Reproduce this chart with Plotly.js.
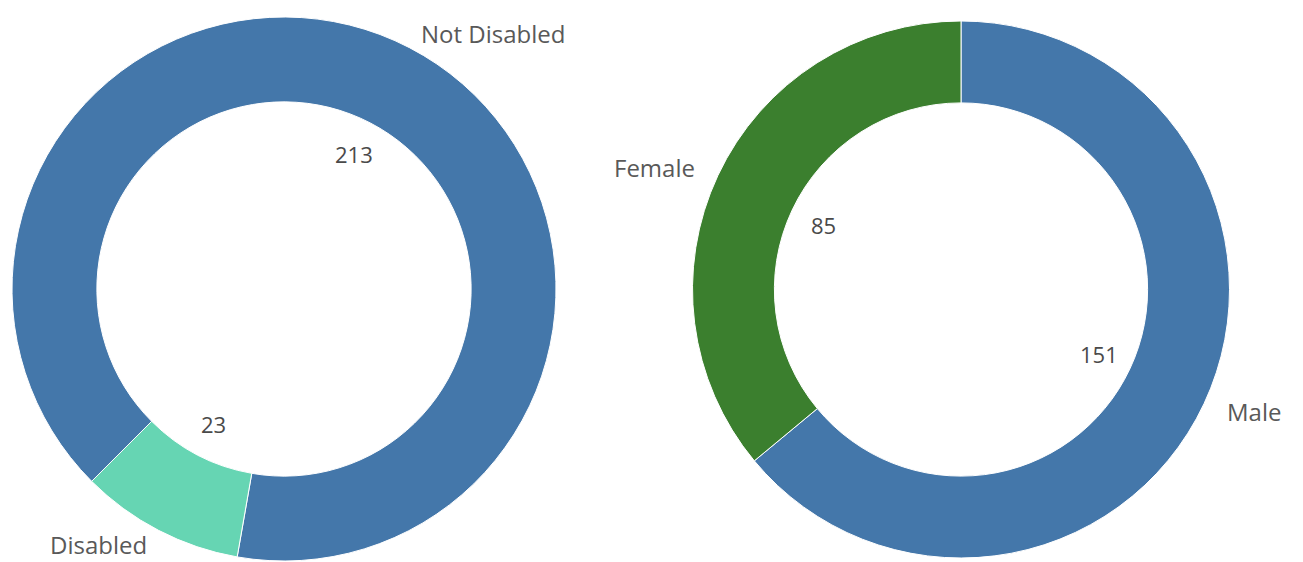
<!DOCTYPE html>
<html>
<head>
<meta charset="utf-8">
<script src="https://cdn.plot.ly/plotly-3.0.1.min.js"></script>
<style>html,body{margin:0;padding:0;background:#fff;}#chart{width:1303px;height:562px;}</style>
</head>
<body>
<div id="chart"></div>
<script>
// Data
const disabilityLabels = ["Not Disabled", "Disabled"];
const disabilityValues = [213, 23];
const genderLabels = ["Male", "Female"];
const genderValues = [151, 85];

const W = 1303, H = 562;
const FONT = "Open Sans, Noto Sans, sans-serif";

// pie geometry (pixels)
const pies = [
  {labels: disabilityLabels, values: disabilityValues, colors: ["#4477aa", "#66d5b3"],
   cx: 284, cy: 289, r: 272, hole: 0.688, rotation: 225},
  {labels: genderLabels, values: genderValues, colors: ["#4477aa", "#3b7f2e"],
   cx: 961, cy: 289.5, r: 268.5, hole: 0.695, rotation: 0}
];

const traces = [];
const annotations = [];
pies.forEach(p => {
  traces.push({
    type: "pie",
    labels: p.labels,
    values: p.values,
    sort: false,
    direction: "clockwise",
    rotation: p.rotation,
    hole: p.hole,
    textinfo: "none",
    hoverinfo: "label+value",
    marker: {colors: p.colors, line: {color: "#ffffff", width: 1}},
    domain: {
      x: [(p.cx - p.r) / W, (p.cx + p.r) / W],
      y: [(H - p.cy - p.r) / H, (H - p.cy + p.r) / H]
    },
    showlegend: false
  });
  const total = p.values.reduce((a, b) => a + b, 0);
  let cum = 0;
  p.values.forEach((v, i) => {
    const mid = p.rotation + (cum + v / 2) / total * 360;
    cum += v;
    const th = mid * Math.PI / 180;
    const s = Math.sin(th), c = Math.cos(th);
    // value inside hole
    const rv = 152;
    annotations.push({
      xref: "paper", yref: "paper",
      x: (p.cx + rv * s) / W, y: (H - p.cy + rv * c) / H,
      text: String(v), showarrow: false,
      xanchor: "center", yanchor: "middle",
      font: {family: FONT, size: 22, color: "#4a4a4a"}
    });
    // label outside
    const rl = 288;
    annotations.push({
      xref: "paper", yref: "paper",
      x: (p.cx + (rl + 4) * s) / W, y: (H - p.cy + rl * c) / H,
      text: p.labels[i], showarrow: false,
      xanchor: s >= 0 ? "left" : "right", yanchor: "middle",
      font: {family: FONT, size: 24, color: "#595959"}
    });
  });
});

const layout = {
  width: W, height: H,
  margin: {l: 0, r: 0, t: 0, b: 0},
  paper_bgcolor: "#ffffff",
  plot_bgcolor: "#ffffff",
  showlegend: false,
  annotations: annotations
};

Plotly.newPlot("chart", traces, layout, {displayModeBar: false, staticPlot: true});
</script>
</body>
</html>
